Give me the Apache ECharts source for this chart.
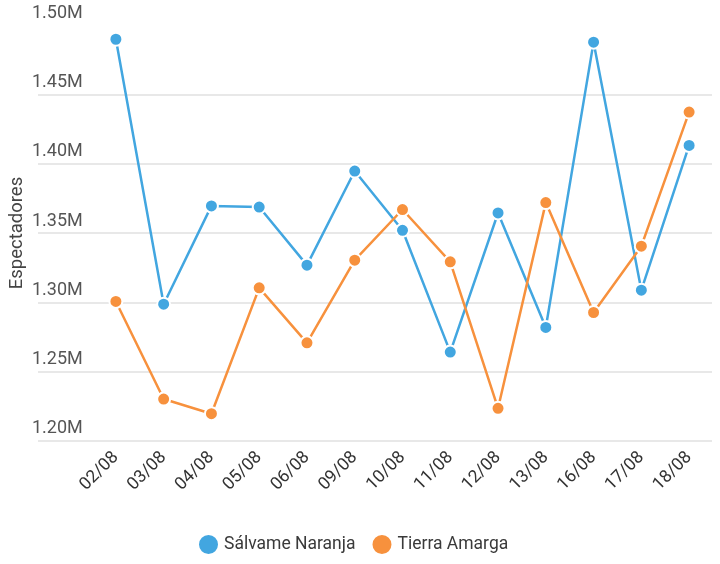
<!DOCTYPE html>
<html>
<head>
<meta charset="utf-8">
<script src="https://cdn.jsdelivr.net/npm/echarts@6/dist/echarts.min.js"></script>
<style>
html,body{margin:0;padding:0;background:#fff;}
#chart{width:720px;height:564px;}
</style>
</head>
<body>
<div id="chart"></div>
<script>
const categories = ['02/08','03/08','04/08','05/08','06/08','09/08','10/08','11/08','12/08','13/08','16/08','17/08','18/08'];
const salvameNaranja = [1490000,1298600,1369600,1368800,1326800,1394800,1352000,1264000,1364500,1281800,1487900,1308700,1413300];
const tierraAmarga = [1300600,1230100,1219500,1310400,1270700,1330400,1367000,1329200,1223400,1372000,1292600,1340500,1437400];
const yMin = 1200000, yMax = 1500000, yStep = 50000;

const chart = echarts.init(document.getElementById('chart'));
const fmt = v => (v/1000000).toFixed(2) + 'M';
const gridTop = 25.4, gridBottom = 123.3;
chart.setOption({
  animation: false,
  textStyle: {fontFamily: 'Roboto'},
  color: ['#42a6e0', '#f7913d'],
  legend: {
    left: 192, bottom: 3,
    icon: 'circle', itemWidth: 21, itemHeight: 21, itemGap: 15, itemTextGap: 15,
    textStyle: {fontSize: 17.5, color: '#3a3a3a', fontFamily: 'Roboto'},
    data: ['Sálvame Naranja', 'Tierra Amarga']
  },
  grid: [
    {left: 92, right: 7, top: gridTop, bottom: gridBottom},
    {left: 33, right: 8, top: gridTop, bottom: gridBottom}
  ],
  xAxis: [
    {
      type: 'category', data: categories, gridIndex: 0, boundaryGap: true,
      axisLine: {show: false}, axisTick: {show: false},
      axisLabel: {rotate: 45, fontSize: 17.5, color: '#333', margin: 14, interval: 0}
    },
    {type: 'value', gridIndex: 1, show: false, min: 0, max: 1}
  ],
  yAxis: [
    {
      type: 'value', gridIndex: 0, min: yMin, max: yMax, interval: yStep,
      axisLine: {show: false}, axisTick: {show: false},
      axisLabel: {
        formatter: fmt, fontSize: 18, color: '#555', align: 'left',
        verticalAlign: 'bottom', padding: [0, 0, 3, 0], margin: 60
      },
      splitLine: {show: false}
    },
    {
      type: 'value', gridIndex: 1, min: yMin, max: yMax, interval: yStep,
      name: 'Espectadores', nameLocation: 'middle', nameGap: 11,
      nameTextStyle: {fontSize: 18.5, color: '#444', fontFamily: 'Roboto'},
      axisLine: {show: false}, axisTick: {show: false},
      axisLabel: {show: false},
      splitLine: {show: true, lineStyle: {color: ['#e0e0e0','#e0e0e0','#e0e0e0','#e0e0e0','#e0e0e0','#e0e0e0','rgba(0,0,0,0)'], width: 1.5}}
    }
  ],
  series: [
    {
      name: 'Sálvame Naranja', type: 'line', data: salvameNaranja,
      xAxisIndex: 0, yAxisIndex: 0,
      symbol: 'circle', symbolSize: 13,
      lineStyle: {width: 2.5},
      itemStyle: {borderColor: '#fff', borderWidth: 2}
    },
    {
      name: 'Tierra Amarga', type: 'line', data: tierraAmarga,
      xAxisIndex: 0, yAxisIndex: 0,
      symbol: 'circle', symbolSize: 13,
      lineStyle: {width: 2.5},
      itemStyle: {borderColor: '#fff', borderWidth: 2}
    }
  ]
});
</script>
</body>
</html>
